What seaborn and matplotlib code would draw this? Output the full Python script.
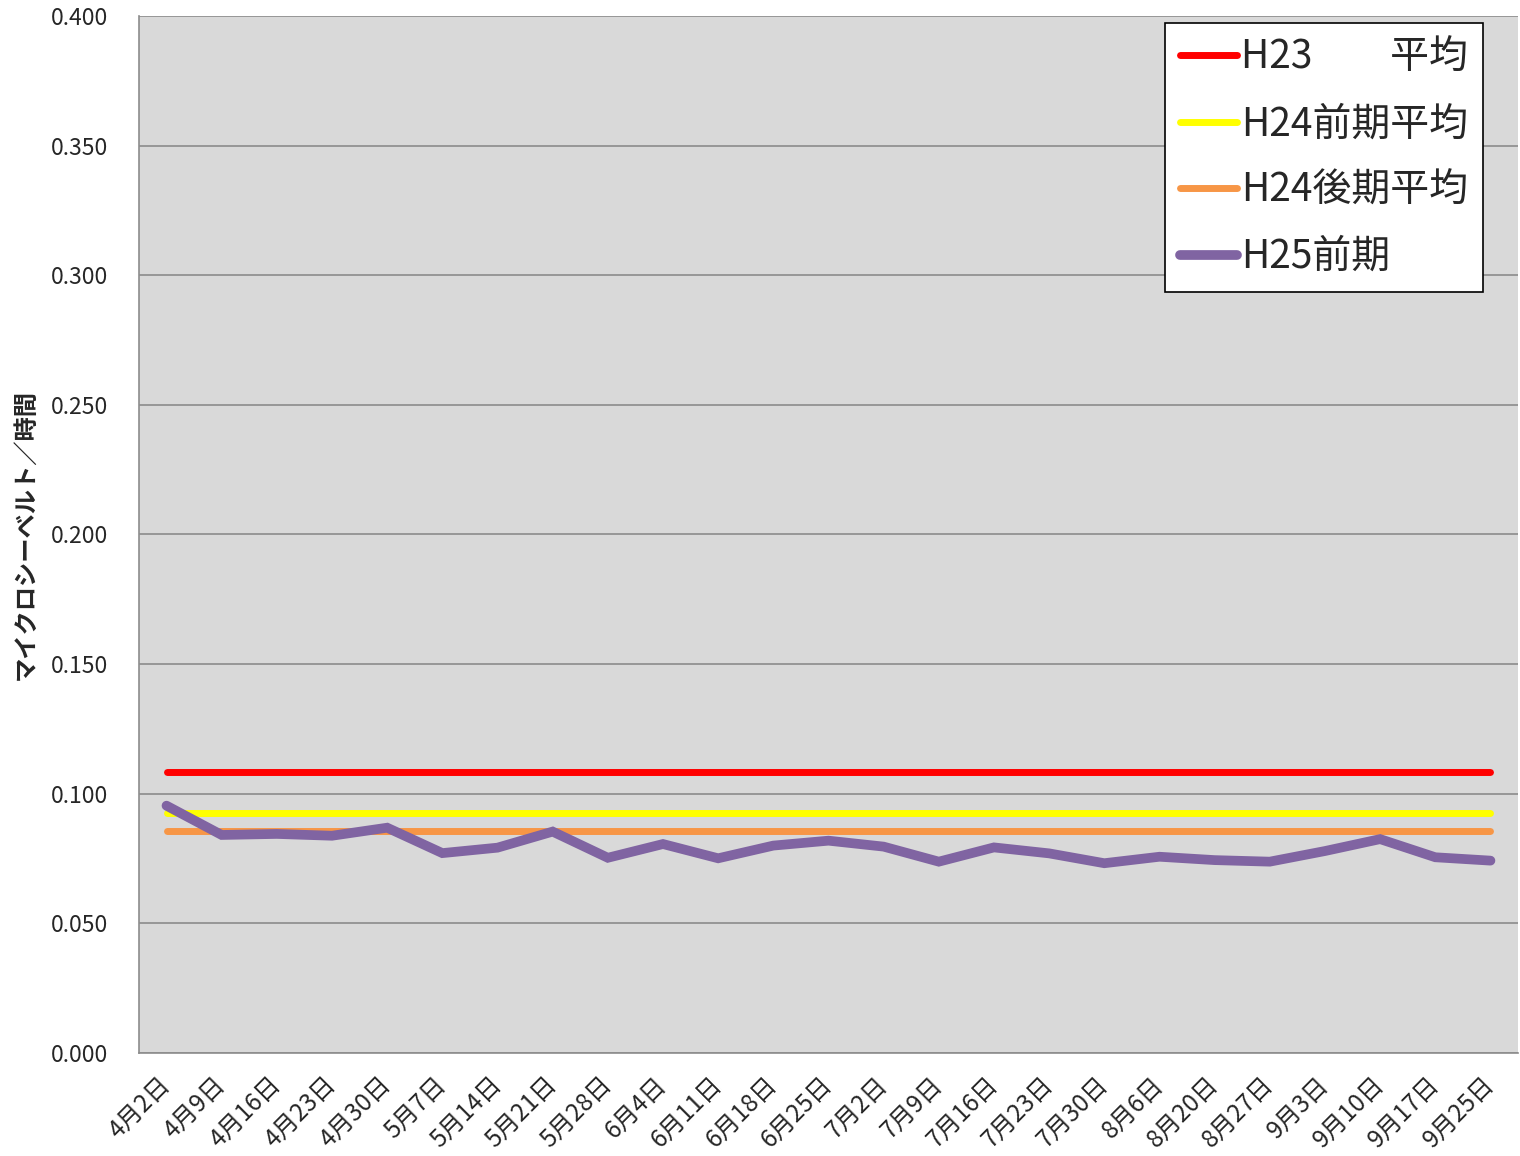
import pandas as pd
import seaborn as sns
import matplotlib.pyplot as plt

# data
dates = ["4月2日", "4月9日", "4月16日", "4月23日", "4月30日", "5月7日", "5月14日",
         "5月21日", "5月28日", "6月4日", "6月11日", "6月18日", "6月25日", "7月2日",
         "7月9日", "7月16日", "7月23日", "7月30日", "8月6日", "8月20日", "8月27日",
         "9月3日", "9月10日", "9月17日", "9月25日"]
h25 = [0.0954, 0.0841, 0.0845, 0.0838, 0.0869, 0.0771, 0.0792, 0.0854, 0.0753,
       0.0806, 0.0751, 0.0800, 0.0819, 0.0796, 0.0738, 0.0793, 0.0770, 0.0732,
       0.0757, 0.0744, 0.0738, 0.0779, 0.0825, 0.0755, 0.0742]
h23_avg = 0.1083
h24a_avg = 0.0925
h24b_avg = 0.0856

df = pd.DataFrame({"date": dates, "H25": h25})
df["H23"] = h23_avg
df["H24a"] = h24a_avg
df["H24b"] = h24b_avg
df["pos"] = range(len(dates))

sns.set_style("white")
plt.rcParams["font.family"] = ["Noto Sans CJK JP", "DejaVu Sans"]

fig = plt.figure(figsize=(15.2, 11.56), dpi=100)
ax = fig.add_axes([0.0914, 0.0891, 0.9073, 0.8971])
ax.set_facecolor("#d9d9d9")

# series
sns.lineplot(data=df, x="pos", y="H23", color="#ff0000", linewidth=5, label="H23\u3000\u3000平均",
             solid_capstyle="round", ax=ax)
sns.lineplot(data=df, x="pos", y="H24a", color="#ffff00", linewidth=5, label="H24前期平均",
             solid_capstyle="round", ax=ax)
sns.lineplot(data=df, x="pos", y="H24b", color="#f79646", linewidth=5, label="H24後期平均",
             solid_capstyle="round", ax=ax)
sns.lineplot(data=df, x="pos", y="H25", color="#8064a2", linewidth=7, label="H25前期",
             solid_capstyle="round", solid_joinstyle="miter", ax=ax)

# axes
ax.set_xlim(-0.5, len(dates) - 0.5)
ax.set_ylim(0, 0.4)
ax.set_yticks([i * 0.05 for i in range(9)])
ax.set_yticklabels(["%.3f" % (i * 0.05) for i in range(9)], fontsize=16.5)
ax.set_xticks(df["pos"])
ax.set_xticklabels(dates, fontsize=17.5, rotation=45, ha="right", va="center",
                   rotation_mode="anchor")
ax.tick_params(axis="y", length=0, pad=22)
ax.tick_params(axis="x", length=0, pad=20)
ax.grid(axis="y", color="#8c8c8c", linewidth=1.2)
ax.set_axisbelow(True)
for s in ["top", "right"]:
    ax.spines[s].set_visible(False)
for s in ["left", "bottom"]:
    ax.spines[s].set_color("#8c8c8c")
    ax.spines[s].set_linewidth(1.2)

ax.set_xlabel("")
ax.set_ylabel("マイクロシーベルト／時間", fontsize=17.5, fontweight="bold", labelpad=10)

leg = ax.legend(loc="upper right", bbox_to_anchor=(0.9746, 0.9932), borderaxespad=0,
                fontsize=28, frameon=True, fancybox=False, handlelength=1.45,
                handletextpad=0.12, labelspacing=0.68, borderpad=0.38)
leg.get_frame().set_edgecolor("black")
leg.get_frame().set_linewidth(1.2)
leg.get_frame().set_facecolor("white")
leg.get_frame().set_alpha(1)

plt.savefig("out.png", dpi=100)
